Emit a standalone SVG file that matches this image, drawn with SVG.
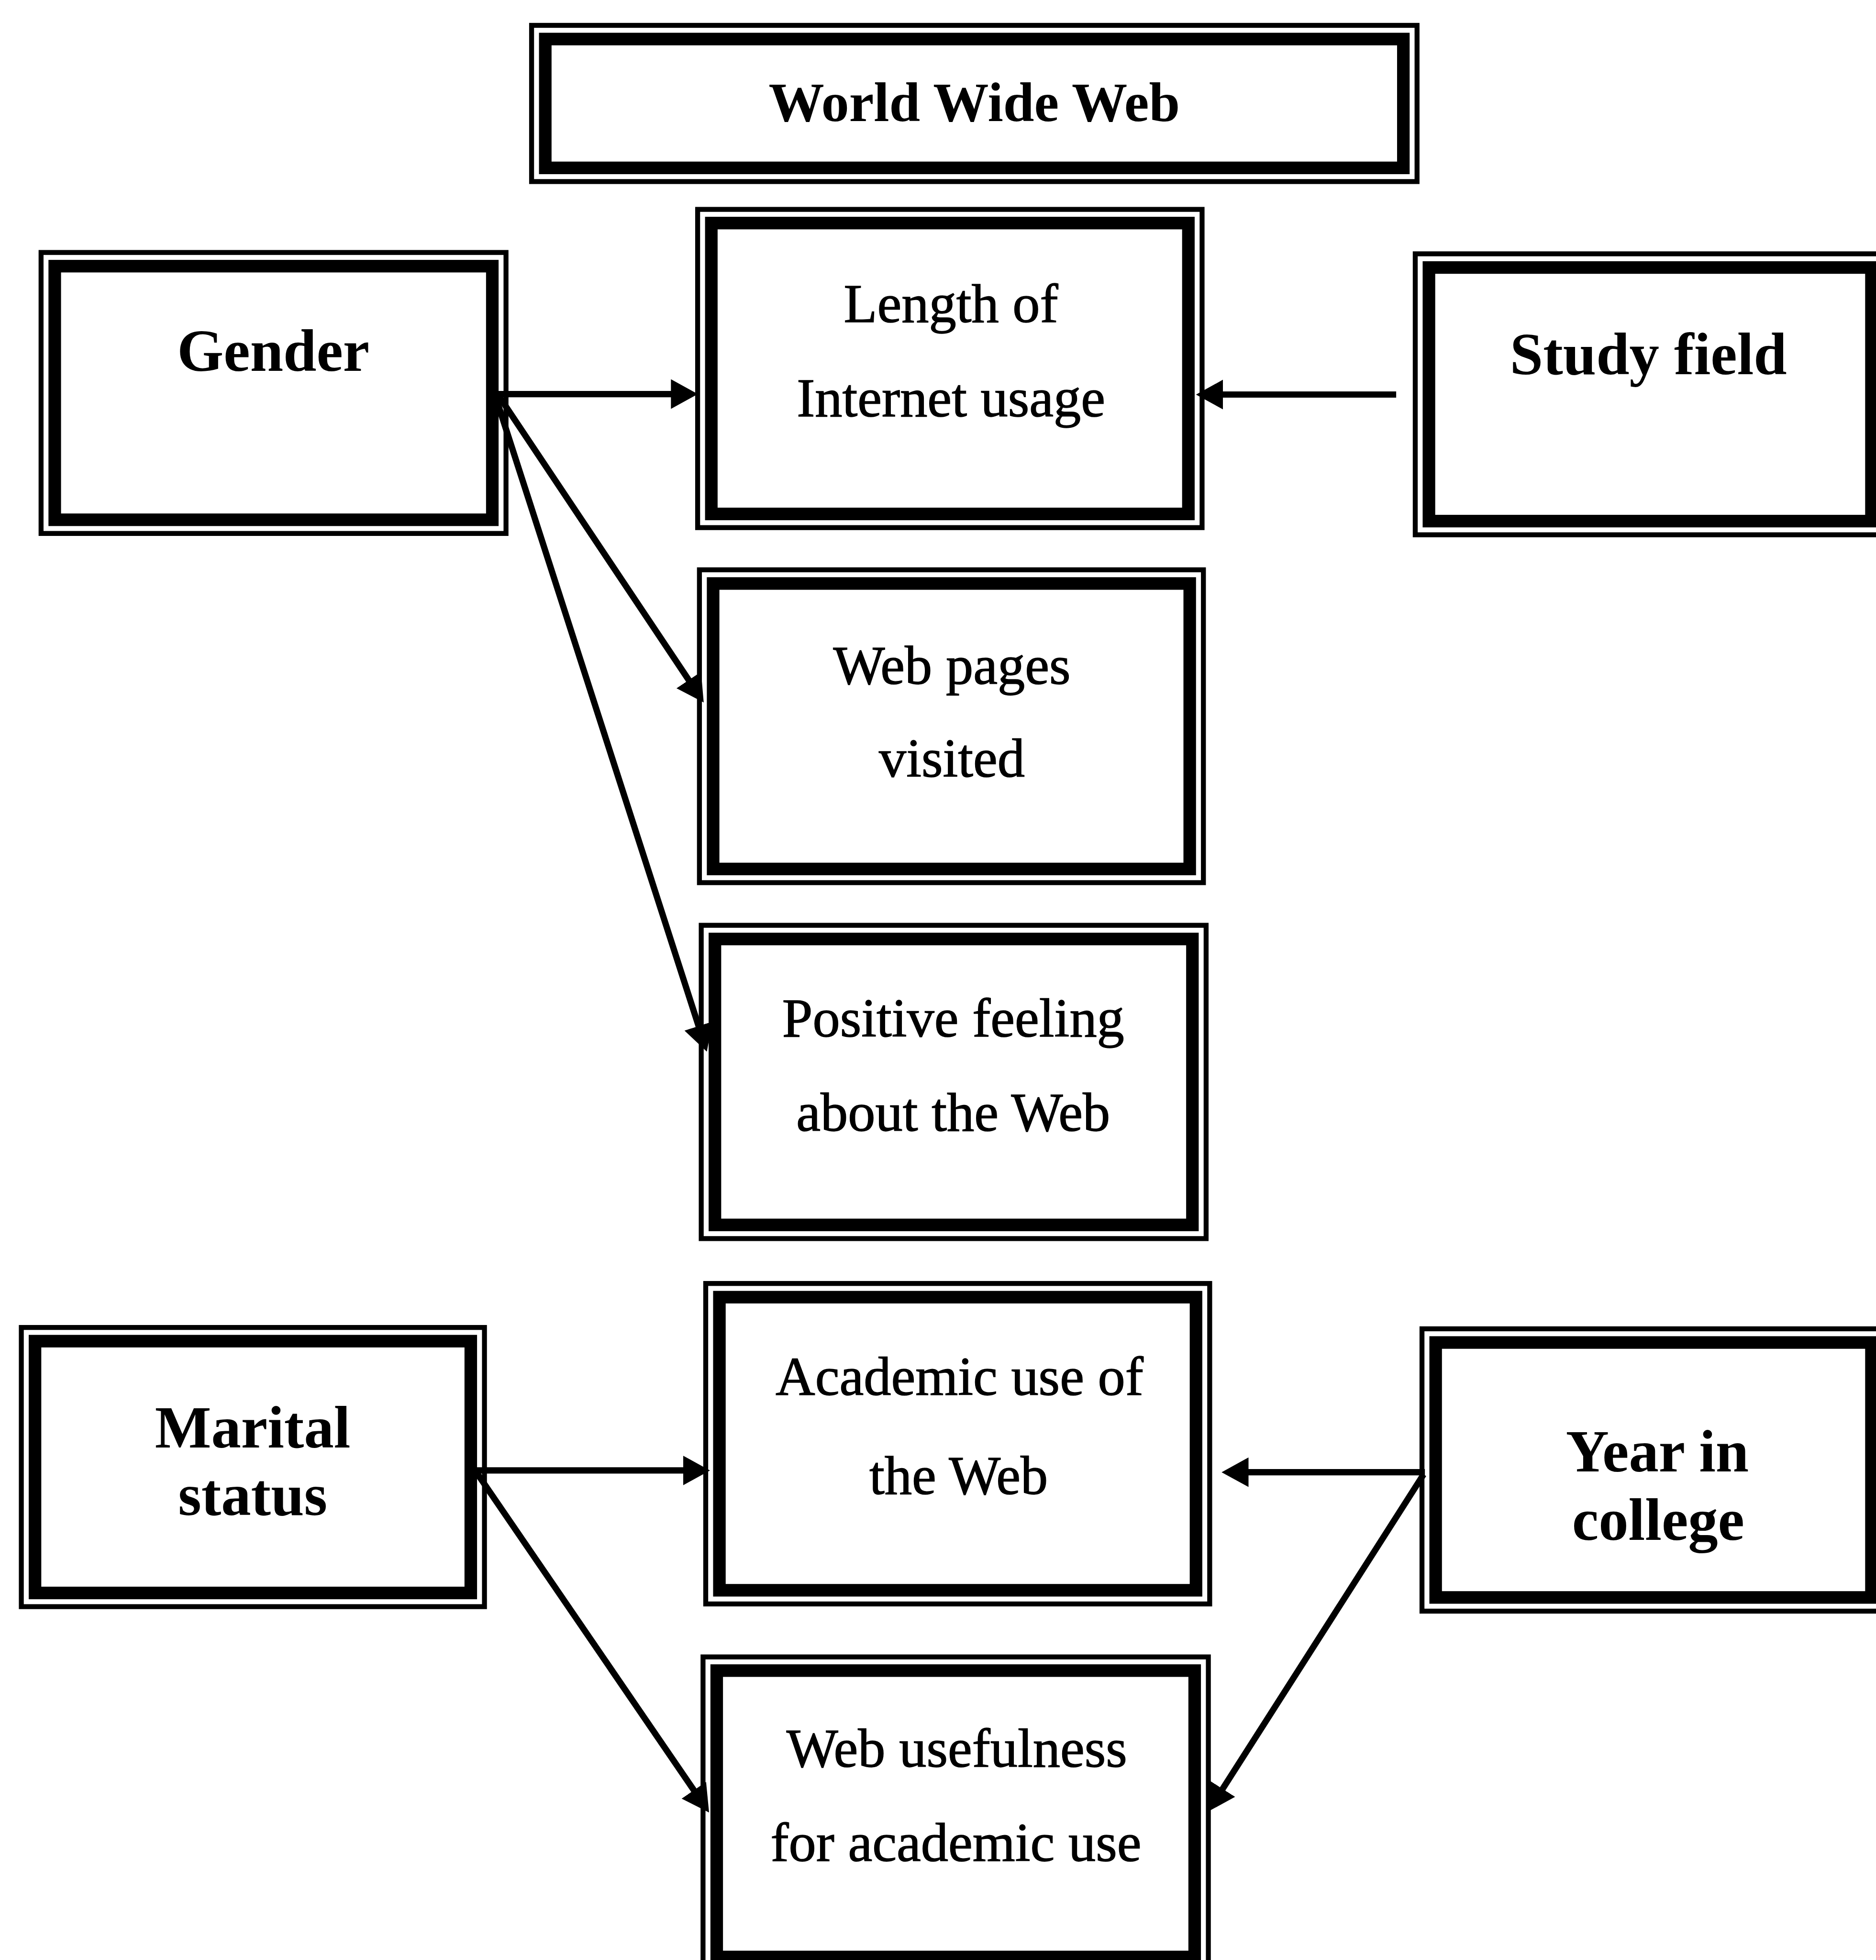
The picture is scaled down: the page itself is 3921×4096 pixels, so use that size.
<svg xmlns="http://www.w3.org/2000/svg" width="3921" height="4096" viewBox="0 0 3921 4096">
  <style>
    .outer { fill: none; stroke: #000; stroke-width: 11; }
    .inner { fill: none; stroke: #000; stroke-width: 28; }
    .lbl { font-family: "Liberation Serif", "Times New Roman", serif; fill: #000; text-anchor: middle; }
    .bold { font-weight: bold; font-size: 133px; }
    .title { font-weight: bold; font-size: 124px; }
    .reg { font-weight: normal; font-size: 122px; stroke: #000; stroke-width: 1.5; }
    .link { fill: none; stroke: #000; stroke-width: 14; marker-end: url(#arrow); }
  </style>
  <defs>
    <marker id="arrow" viewBox="0 0 60 70" refX="45" refY="35" markerWidth="60" markerHeight="70" markerUnits="userSpaceOnUse" orient="auto">
      <path d="M0,2 L60,35 L0,68 Z" fill="#000"/>
    </marker>
  </defs>
  <rect width="3921" height="4096" fill="#fff"/>
  <g transform="scale(0.938)">
    <g id="world-wide-web">
      <rect class="outer" x="1184.5" y="56.5" width="1973" height="348"/>
      <rect class="inner" x="1215" y="87" width="1912" height="287"/>
      <text class="lbl title" x="2171" y="270">World Wide Web</text>
    </g>
    <g id="gender">
      <rect class="outer" x="91.5" y="562.5" width="1036" height="626"/>
      <rect class="inner" x="122" y="593" width="975" height="565"/>
      <text class="lbl bold" x="609" y="826">Gender</text>
    </g>
    <g id="length-of-internet-usage">
      <rect class="outer" x="1554.5" y="466.5" width="1124" height="709"/>
      <rect class="inner" x="1585" y="497" width="1063" height="648"/>
      <text class="lbl reg" x="2119" y="717">Length of</text>
      <text class="lbl reg" x="2119" y="927">Internet usage</text>
    </g>
    <g id="study-field">
      <rect class="outer" x="3153.5" y="565.5" width="1047" height="626"/>
      <rect class="inner" x="3184" y="596" width="986" height="565"/>
      <text class="lbl bold" x="3673" y="834">Study field</text>
    </g>
    <g id="web-pages-visited">
      <rect class="outer" x="1558.5" y="1269.5" width="1123" height="697"/>
      <rect class="inner" x="1589" y="1300" width="1062" height="636"/>
      <text class="lbl reg" x="2121" y="1523">Web pages</text>
      <text class="lbl reg" x="2121" y="1730">visited</text>
    </g>
    <g id="positive-feeling">
      <rect class="outer" x="1562.5" y="2061.5" width="1125" height="698"/>
      <rect class="inner" x="1593" y="2092" width="1064" height="637"/>
      <text class="lbl reg" x="2124" y="2309">Positive feeling</text>
      <text class="lbl reg" x="2124" y="2519">about the Web</text>
    </g>
    <g id="marital-status">
      <rect class="outer" x="47.5" y="2957.5" width="1032" height="622"/>
      <rect class="inner" x="78" y="2988" width="971" height="561"/>
      <text class="lbl bold" x="563" y="3225">Marital</text>
      <text class="lbl bold" x="563" y="3375">status</text>
    </g>
    <g id="academic-use">
      <rect class="outer" x="1572.5" y="2859.5" width="1123" height="714"/>
      <rect class="inner" x="1603" y="2890" width="1062" height="653"/>
      <text class="lbl reg" x="2138" y="3108">Academic use of</text>
      <text class="lbl reg" x="2136" y="3328">the Web</text>
    </g>
    <g id="year-in-college">
      <rect class="outer" x="3168.5" y="2960.5" width="1032" height="629"/>
      <rect class="inner" x="3199" y="2991" width="971" height="568"/>
      <text class="lbl bold" x="3693" y="3278">Year in</text>
      <text class="lbl bold" x="3695" y="3431">college</text>
    </g>
    <g id="web-usefulness">
      <rect class="outer" x="1566.5" y="3691.5" width="1126" height="699"/>
      <rect class="inner" x="1597" y="3722" width="1065" height="638"/>
      <text class="lbl reg" x="2132" y="3936">Web usefulness</text>
      <text class="lbl reg" x="2130" y="4146">for academic use</text>
    </g>
    <g id="connectors">
      <line class="link" x1="1105" y1="878" x2="1540" y2="878"/>
      <line class="link" x1="1110" y1="880" x2="1559.7" y2="1552.5"/>
      <line class="link" x1="1103" y1="880" x2="1570.4" y2="2328.7"/>
      <line class="link" x1="3111" y1="879" x2="2680" y2="879"/>
      <line class="link" x1="1050" y1="3276" x2="1567" y2="3276"/>
      <line class="link" x1="1060" y1="3278" x2="1571.5" y2="4025.6"/>
      <line class="link" x1="3175" y1="3280" x2="2737" y2="3280"/>
      <line class="link" x1="3172" y1="3285" x2="2700.1" y2="4023.4"/>
    </g>
  </g>
</svg>
